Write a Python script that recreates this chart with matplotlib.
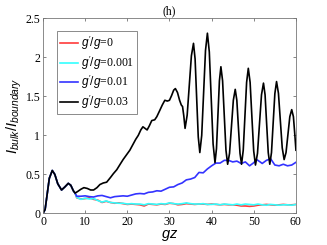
import numpy as np
import matplotlib
matplotlib.use("Agg")
import matplotlib.pyplot as plt

# values
gz_early = [0, 0.5, 1.0, 1.5, 2.2, 2.8, 3.5, 4.4, 5.2, 6.0, 6.6, 7.2]
v_early = [0, 0.05, 0.25, 0.45, 0.55, 0.50, 0.38, 0.30, 0.34, 0.385, 0.36, 0.29]

gz_black = [7.6, 8.2, 9.0, 9.7, 10.5, 11.3, 12.0, 12.8, 13.5, 14.3, 15.1, 16.0, 16.7,
            17.5, 18.3, 19.0, 19.8, 20.6, 21.4, 22.0, 22.6, 23.2, 23.7, 24.2, 24.7,
            25.2, 25.8, 26.5, 27.0, 27.7, 28.3, 28.9, 29.5, 30.0, 30.5, 31.0, 31.4,
            31.9, 32.4, 32.8, 33.1, 33.4, 33.7,
            34.2, 34.7, 35.2, 35.7, 36.08, 36.45, 36.83, 37.2, 37.65, 38.1, 38.55, 39.0,
            39.45, 39.9, 40.35, 40.8, 41.15, 41.5, 41.85, 42.2, 42.6, 43.0, 43.4, 43.8,
            44.25, 44.7, 45.15, 45.6, 45.98, 46.35, 46.73, 47.1, 47.5, 47.9, 48.3, 48.7,
            49.13, 49.55, 49.98, 50.4, 50.88, 51.35, 51.83, 52.3, 52.68, 53.05, 53.43,
            53.8, 54.2, 54.6, 55.0, 55.4, 55.85, 56.3, 56.75, 57.2, 57.65, 58.1, 58.55,
            59.0, 59.4, 59.75, 60.0]
v_black = [0.26, 0.28, 0.31, 0.33, 0.32, 0.30, 0.30, 0.33, 0.37, 0.39, 0.40, 0.46, 0.51,
           0.56, 0.63, 0.69, 0.75, 0.81, 0.89, 0.95, 1.00, 1.07, 1.11, 1.09, 1.07,
           1.12, 1.19, 1.20, 1.24, 1.32, 1.39, 1.45, 1.44, 1.45, 1.51, 1.58, 1.60,
           1.55, 1.45, 1.39, 1.37, 1.25, 1.09,
           1.26, 1.64, 2.02, 2.18, 1.98, 1.48, 0.98, 0.78, 1.00, 1.545, 2.09, 2.31,
           2.07, 1.48, 0.89, 0.65, 0.83, 1.265, 1.70, 1.88, 1.70, 1.255, 0.81, 0.63,
           0.77, 1.11, 1.45, 1.59, 1.45, 1.11, 0.77, 0.63, 0.81, 1.245, 1.68, 1.86,
           1.68, 1.24, 0.80, 0.62, 0.77, 1.145, 1.52, 1.67, 1.52, 1.15, 0.78,
           0.63, 0.78, 1.16, 1.535, 1.69, 1.54, 1.19, 0.84, 0.69, 0.78, 1.01, 1.24,
           1.33, 1.24, 1.00, 0.81]

gz_blue = [7.6, 8, 9, 10, 11, 12, 13, 14, 15, 16, 17, 18, 19, 20, 21, 22, 23, 24, 25,
           26, 27, 28, 29, 30, 31, 32, 33, 34, 35, 36, 37, 38, 39, 40, 41, 42, 43, 44,
           45, 46, 47, 48, 49, 50, 50.7, 51.5, 52, 53, 54, 55, 56, 57, 58, 59, 60]
v_blue = [0.26, 0.22, 0.22, 0.225, 0.215, 0.21, 0.225, 0.23, 0.215, 0.20, 0.215, 0.22,
          0.225, 0.22, 0.235, 0.25, 0.255, 0.25, 0.27, 0.275, 0.29, 0.285, 0.31, 0.335,
          0.34, 0.37, 0.39, 0.43, 0.44, 0.46, 0.525, 0.52, 0.57, 0.61, 0.645, 0.645,
          0.68, 0.68, 0.66, 0.67, 0.64, 0.66, 0.61, 0.65, 0.69, 0.66, 0.64, 0.68, 0.70,
          0.62, 0.61, 0.63, 0.61, 0.62, 0.655]

gz_low = [7.6, 8, 9, 10, 11, 12, 13, 14, 15, 16, 17, 18, 19, 20, 21, 22, 23, 24, 25,
          26, 27, 28, 29, 30, 31, 32, 33, 34, 35, 36, 37, 38, 39, 40, 41, 42, 43, 44,
          45, 46, 47, 48, 49, 50, 51, 52, 53, 54, 55, 56, 57, 58, 59, 60]
v_red = [0.26, 0.20, 0.185, 0.19, 0.20, 0.18, 0.17, 0.14, 0.155, 0.14, 0.13, 0.135,
         0.125, 0.115, 0.12, 0.115, 0.11, 0.095, 0.12, 0.115, 0.11, 0.12, 0.115, 0.13,
         0.125, 0.11, 0.115, 0.125, 0.12, 0.115, 0.12, 0.12, 0.115, 0.12, 0.115, 0.11,
         0.115, 0.11, 0.11, 0.105, 0.095, 0.095, 0.09, 0.095, 0.105, 0.11, 0.115, 0.11,
         0.105, 0.11, 0.115, 0.11, 0.11, 0.115]
v_cyan = [0.26, 0.205, 0.18, 0.195, 0.185, 0.19, 0.165, 0.145, 0.16, 0.14, 0.135, 0.13,
          0.13, 0.12, 0.125, 0.12, 0.12, 0.11, 0.125, 0.12, 0.115, 0.125, 0.12, 0.135,
          0.125, 0.12, 0.125, 0.135, 0.125, 0.12, 0.12, 0.125, 0.115, 0.115, 0.12, 0.11,
          0.12, 0.115, 0.11, 0.12, 0.11, 0.12, 0.115, 0.11, 0.12, 0.11, 0.105, 0.115,
          0.11, 0.105, 0.11, 0.11, 0.105, 0.115]

labels = ["$g'/g$=0", "$g'/g$=0.001", "$g'/g$=0.01", "$g'/g$=0.03"]
colors = ["#ff3b3b", "#33ffff", "#3333ff", "#000000"]

plt.rcParams["font.family"] = "Liberation Serif"
plt.rcParams["mathtext.fontset"] = "custom"
plt.rcParams["mathtext.rm"] = "Liberation Sans"
plt.rcParams["mathtext.it"] = "Liberation Sans:italic"

fig = plt.figure(figsize=(3.27, 2.45), dpi=100)
ax = fig.add_axes([0.1315, 0.129, 0.7735, 0.796])

series = [v_red, v_cyan, v_blue, v_black]
xs = [gz_low, gz_low, gz_blue, gz_black]
for x, y, c, lab in zip(xs, series, colors, labels):
    ax.plot(gz_early + list(x), v_early + list(y), color=c, lw=1.2, label=lab)

ax.set_xlim(0, 60)
ax.set_ylim(0, 2.5)
ax.set_xticks(np.arange(0, 61, 10))
ax.set_yticks([0, 0.5, 1, 1.5, 2, 2.5])
ax.set_yticklabels(["0", "0.5", "1", "1.5", "2", "2.5"])
ax.tick_params(direction="in", top=True, right=True, labelsize=8.5,
               length=2.5, width=0.5, color="#555555", pad=2)
for s in ax.spines.values():
    s.set_color("#777777")
    s.set_linewidth(0.6)

ax.set_xlabel("$gz$", fontsize=10.5, labelpad=0)
ax.set_ylabel("$I_{bulk}/I_{boundary}$", fontsize=10.5, labelpad=1)
ax.set_title("(h)", fontsize=8.5, pad=3)

leg = ax.legend(loc="upper left", bbox_to_anchor=(0.055, 0.935), fontsize=8.5,
                frameon=True, fancybox=False, handlelength=1.5, handletextpad=0.3,
                borderpad=0.25, labelspacing=0.12, borderaxespad=0)
leg.get_frame().set_edgecolor("#555555")
leg.get_frame().set_linewidth(0.6)

fig.savefig("out.png", dpi=100)
